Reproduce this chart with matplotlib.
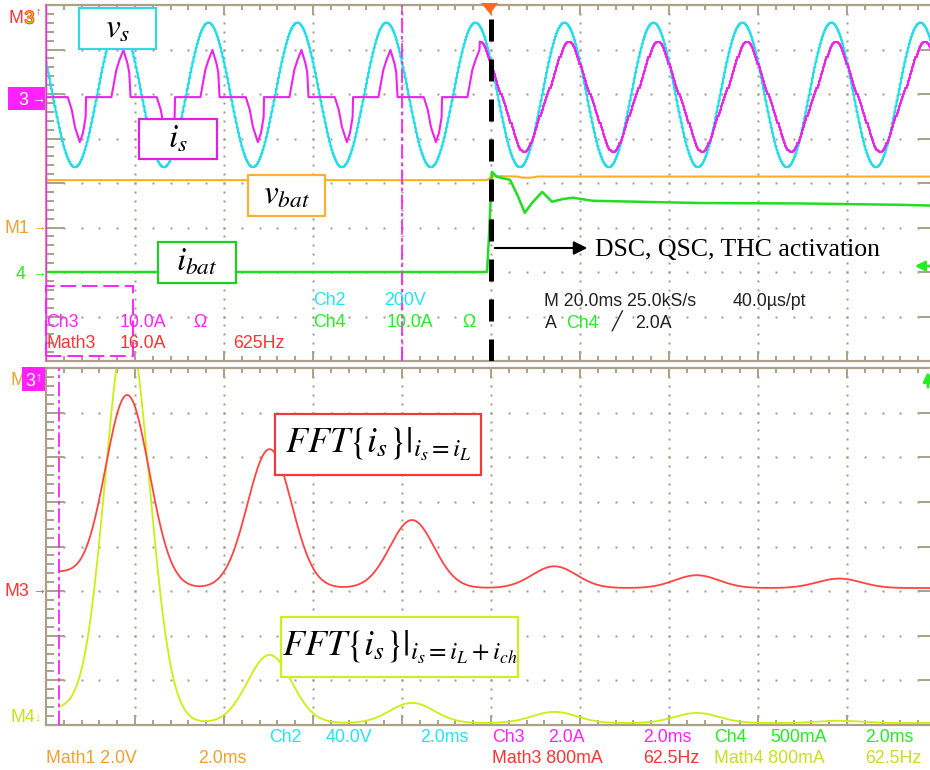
import numpy as np
import matplotlib
matplotlib.use("Agg")
import matplotlib.pyplot as plt
from matplotlib.patches import Rectangle, Polygon, FancyArrowPatch
import matplotlib.patheffects as pe

FIG_W, FIG_H = 930, 770
plt.rcParams['mathtext.fontset'] = 'stix'
plt.rcParams['font.family'] = ['Liberation Sans', 'DejaVu Sans']

# ---------------- upper screen: time domain, 20 ms/div, trigger at t = 0 ----------------
TIME_DIV = 20.0                      # ms per division
CH2_VDIV, CH2_POS = 200.0, 1.98      # source voltage v_s
CH3_ADIV, CH3_POS = 10.0, 1.93       # source current i_s
M1_VDIV, M1_POS = 2.0, -0.99         # battery voltage v_bat (Math1)
CH4_ADIV, CH4_POS = 10.0, -2.02      # battery current i_bat

vs_peak_v = 325.0
vs_freq_hz = 50.0
vs_first_crest_ms = -83.5

# rectifier-type current pulses around each voltage crest / trough (before activation)
is_pos_dt = [-1.8, -0.7, 0.0, 0.9, 1.8, 2.2, 2.5]
is_pos_a = [0.0, 6.1, 8.3, 10.6, 7.6, 5.6, 0.0]
is_neg_dt = [-1.6, -0.7, 0.0, 1.1, 1.8, 2.4, 2.5]
is_neg_a = [0.0, -2.9, -6.7, -10.1, -8.1, -4.5, 0.0]
# after activation: near-sinusoidal source current
is_on_peak_a = 11.5
is_on_lag_ms = 1.0
is_on_h3 = 0.08
t_switch_ms = -2.5

vbat_t = [-100, -1.0, 0.5, 6.0, 7.0, 9.0, 10.5, 100]
vbat_v = [2.11, 2.11, 2.29, 2.27, 2.22, 2.22, 2.27, 2.27]

ibat_t = [-100, -0.9, -0.5, 0.2, 1.35, 4.3, 6.1, 7.6, 9.2, 11.5, 13.7, 16.2,
          18.4, 22.9, 47.0, 69.4, 91.9, 100]
ibat_a = [0.2, 0.2, 7.2, 22.7, 21.6, 20.9, 17.1, 13.5, 15.7, 18.2, 16.0, 16.6,
          16.9, 16.2, 15.7, 15.6, 15.3, 15.1]

# ---------------- lower screen: spectra, 62.5 Hz/div ----------------
FREQ_DIV = 62.5
F_LEFT = -7.0
M3_ADIV, M3_POS = 0.8, -0.975
M4_ADIV, M4_POS = 0.8, -3.955
harm_hz = [0, 50, 150, 250, 350, 450, 550]
fft_load_a = [0.27, 3.46, 2.49, 1.22, 0.39, 0.23, 0.17]
fft_comp_a = [0.23, 7.17, 1.22, 0.36, 0.20, 0.18, 0.04]
fft_load_floor = 0.035
fft_comp_floor = 0.0
lobe_sigma_hz = 15.5
cursor_hz = 2.0

# colours
TAN = '#aaa188'
DOT = '#a39b84'
CYAN = '#22dde8'
MAG = '#ee22ee'
ORANGE = '#ffb020'
GREEN = '#22dd22'
RED = '#ff4444'
YEL = '#ccee11'
T_CYAN = '#22e4f4'
T_MAG = '#ff22ff'
T_GREEN = '#22ee22'
T_RED = '#ff3333'
T_ORANGE = '#f0a030'
T_YEL = '#c4e020'


def fx(x):
    return x / FIG_W


def fy(y):
    return 1 - y / FIG_H


fig = plt.figure(figsize=(FIG_W / 100, FIG_H / 100), dpi=100)
fig.patch.set_facecolor('white')
ax_t = fig.add_axes([fx(46), fy(361), fx(936) - fx(46), fy(5) - fy(361)])
ax_f = fig.add_axes([fx(46), fy(725), fx(936) - fx(46), fy(368) - fy(725)])


def graticule(ax, x0, xdiv):
    ax.set_xlim(x0, x0 + 10 * xdiv)
    ax.set_ylim(-4, 4)
    for s in ax.spines.values():
        s.set_color(TAN)
        s.set_linewidth(1.6)
    ax.set_xticks(x0 + xdiv * np.arange(11))
    ax.set_xticks(x0 + xdiv * np.arange(51) / 5, minor=True)
    ax.set_yticks(np.arange(-4, 5))
    ax.set_yticks(np.arange(-20, 21) / 5, minor=True)
    ax.tick_params(which='both', direction='in', top=True, bottom=True,
                   left=True, right=True, labelbottom=False, labelleft=False,
                   color=TAN, width=1.4)
    ax.tick_params(axis='x', which='major', length=7)
    ax.tick_params(axis='x', which='minor', length=3.5)
    ax.tick_params(axis='y', which='major', length=13)
    ax.tick_params(axis='y', which='minor', length=5.5, right=False)
    xs = x0 + xdiv * np.arange(1, 50) / 5
    for k in range(-3, 4):
        ax.plot(xs, np.full_like(xs, k), ls='none', marker='s', ms=1.5,
                mfc=DOT, mec='none', zorder=0.5)
    ys = np.arange(-19, 20) / 5
    for k in range(1, 10):
        ax.plot(np.full_like(ys, x0 + k * xdiv), ys, ls='none', marker='s',
                ms=1.5, mfc=DOT, mec='none', zorder=0.5)


graticule(ax_t, -100.0, TIME_DIV)
graticule(ax_f, F_LEFT, FREQ_DIV)

# ---------------- time-domain traces ----------------
period = 1000.0 / vs_freq_hz
t = np.arange(-100, 100.01, 0.25)
vs = vs_peak_v * np.cos(2 * np.pi * (t - vs_first_crest_ms) / period)
ax_t.plot(t, CH2_POS + vs / CH2_VDIV, color=CYAN, lw=1.5,
          drawstyle='steps-mid', zorder=2)

pts = [(-100.0, 0.0)]
for k in range(-1, 10):
    crest = vs_first_crest_ms + k * period
    for c, dts, amps in ((crest, is_pos_dt, is_pos_a),
                         (crest + period / 2, is_neg_dt, is_neg_a)):
        for dt, a in zip(dts, amps):
            if c + dt <= t_switch_ms:
                pts.append((c + dt, a))
pts.sort()
pre_t = np.array([p[0] for p in pts])
pre_a = np.array([p[1] for p in pts])
ton = np.arange(t_switch_ms, 100.01, 0.25)
ph = 2 * np.pi * (ton - vs_first_crest_ms - is_on_lag_ms) / period
ion = is_on_peak_a * (np.cos(ph) + is_on_h3 * np.cos(3 * ph))
ax_t.plot(np.append(pre_t, ton[0]), CH3_POS + np.append(pre_a, ion[0]) / CH3_ADIV,
          color=MAG, lw=1.5, zorder=3)
ax_t.plot(ton, CH3_POS + ion / CH3_ADIV, color=MAG, lw=1.5,
          drawstyle='steps-mid', zorder=3)

ax_t.plot(vbat_t, M1_POS + np.array(vbat_v) / M1_VDIV, color=ORANGE, lw=1.5, zorder=3)
ax_t.plot(ibat_t, CH4_POS + np.array(ibat_a) / CH4_ADIV, color=GREEN, lw=1.8, zorder=3)

# cursors and trigger line
ax_t.axvline(-100, color=T_MAG, lw=1.6, zorder=4)
ax_t.axvline(-20, color=T_MAG, lw=1.3, ls=(0, (8, 2, 2, 2)), zorder=4)
ax_t.axvline(0, color='black', lw=3.6, ls=(0, (4.4, 3.6)), zorder=6)

# ---------------- spectra ----------------
f = np.arange(cursor_hz, 625, 0.5)


def spectrum(amps, floor):
    s = np.full_like(f, floor)
    for h, a in zip(harm_hz, amps):
        s += a * np.exp(-(f - h) ** 2 / (2 * lobe_sigma_hz ** 2))
    return s


ax_f.plot(f, M4_POS + spectrum(fft_comp_a, fft_comp_floor) / M4_ADIV,
          color=YEL, lw=1.3, zorder=2)
ax_f.plot(f, M3_POS + spectrum(fft_load_a, fft_load_floor) / M3_ADIV,
          color=RED, lw=1.3, zorder=3)
ax_f.axvline(cursor_hz, color=T_MAG, lw=1.3, ls=(0, (8, 2, 2, 2)), zorder=4)

# ---------------- annotations ----------------
def box_label(x0, y0, x1, y1, color, tex, size):
    fig.add_artist(Rectangle((fx(x0), fy(y1)), fx(x1) - fx(x0), fy(y0) - fy(y1),
                             transform=fig.transFigure, facecolor='white',
                             edgecolor=color, lw=1.6, zorder=5))
    fig.text(fx((x0 + x1) / 2), fy((y0 + y1) / 2), tex, ha='center', va='center',
             fontsize=size, color='black', zorder=6)


box_label(79, 8, 156, 49, '#33d8e4', r'$v_s$', 24)
box_label(139, 119, 217, 159, '#e020e0', r'$i_s$', 24)
box_label(248, 175, 325, 216, '#ffb030', r'$v_{bat}$', 24)
box_label(158, 242, 236, 283, '#22cc22', r'$i_{bat}$', 24)
box_label(275, 414, 481, 475, '#ee3a3a', r'$FFT\{i_s\}|_{i_s=i_L}$', 26)
box_label(281, 617, 518, 677, '#ccee22', r'$FFT\{i_s\}|_{i_s=i_L+i_{ch}}$', 26)

# activation arrow
fig.add_artist(FancyArrowPatch(
    (fx(492), fy(248)), (fx(590), fy(248)), transform=fig.transFigure,
    arrowstyle='-|>', mutation_scale=20, color='black', lw=1.5, zorder=7))
fig.text(fx(595), fy(256), 'DSC, QSC, THC activation', family='Liberation Serif',
         fontsize=18.5, color='black', zorder=7)

# trigger position marker
fig.add_artist(Polygon([(fx(481), fy(3)), (fx(498), fy(3)), (fx(490), fy(14))],
                       closed=True, transform=fig.transFigure,
                       facecolor='#ff6a20', edgecolor='none', zorder=7))

# magenta dashed zoom box
fig.add_artist(Rectangle((fx(46), fy(356)), fx(133) - fx(46), fy(286) - fy(356),
                         transform=fig.transFigure, facecolor='none',
                         edgecolor=T_MAG, lw=1.4, ls=(0, (8, 3)), zorder=5))

# trigger level arrows (green)
fig.add_artist(FancyArrowPatch(
    (fx(936), fy(266)), (fx(912), fy(266)), transform=fig.transFigure,
    arrowstyle='-|>', mutation_scale=14, color=T_GREEN, lw=2, zorder=7))
fig.add_artist(FancyArrowPatch(
    (fx(928), fy(390)), (fx(928), fy(369)), transform=fig.transFigure,
    arrowstyle='-|>', mutation_scale=14, color=T_GREEN, lw=2, zorder=7))

# scope readouts
FS = 12.8


def readout(x, base, s, color):
    fig.text(fx(x), fy(base), s, fontsize=FS, color=color, ha='left',
             va='baseline', zorder=7)


readout(313, 305, 'Ch2', T_CYAN)
readout(384, 305, '200V', T_CYAN)
readout(46, 327, 'Ch3', T_MAG)
readout(120, 327, '10.0A', T_MAG)
readout(193, 327, 'Ω', T_MAG)
readout(313, 327, 'Ch4', T_GREEN)
readout(387, 327, '10.0A', T_GREEN)
readout(462, 327, 'Ω', T_GREEN)
readout(46, 348, 'Math3', T_RED)
readout(120, 348, '16.0A', T_RED)
readout(233, 348, '625Hz', T_RED)
readout(544, 306, 'M 20.0ms 25.0kS/s', '#222222')
readout(733, 306, '40.0µs/pt', '#222222')
readout(545, 328, 'A', '#222222')
readout(566, 328, 'Ch4', T_GREEN)
readout(612, 328, '╱', '#222222')
readout(635, 328, '2.0A', '#222222')

readout(269, 742, 'Ch2', T_CYAN)
readout(326, 742, '40.0V', T_CYAN)
readout(420, 742, '2.0ms', T_CYAN)
readout(492, 742, 'Ch3', T_MAG)
readout(548, 742, '2.0A', T_MAG)
readout(643, 742, '2.0ms', T_MAG)
readout(714, 742, 'Ch4', T_GREEN)
readout(770, 742, '500mA', T_GREEN)
readout(865, 742, '2.0ms', T_GREEN)
readout(46, 763, 'Math1 2.0V', T_ORANGE)
readout(198, 763, '2.0ms', T_ORANGE)
readout(492, 763, 'Math3 800mA', T_RED)
readout(643, 763, '62.5Hz', T_RED)
readout(714, 763, 'Math4 800mA', T_YEL)
readout(865, 763, '62.5Hz', T_YEL)

# channel reference markers on the left edge
def marker_text(x, yc, s, color, size=FS, ha='left'):
    fig.text(fx(x), fy(yc + 6.3 * size / FS), s, fontsize=size, color=color,
             ha=ha, va='baseline', zorder=8)


marker_text(8, 17, 'M', T_RED)
t3 = fig.text(fx(24.5), fy(23.3), '3', fontsize=FS, color='#c8d000', ha='left',
              va='baseline', zorder=8)
t3.set_path_effects([pe.withStroke(linewidth=1.2, foreground=T_RED)])
marker_text(36, 11, '↑', T_RED, size=8)

fig.add_artist(Rectangle((fx(8), fy(110)), fx(45) - fx(8), fy(87) - fy(110),
                         transform=fig.transFigure, facecolor=T_MAG,
                         edgecolor='none', zorder=7))
marker_text(18, 99, '3', 'white')
marker_text(31, 98, '→', 'white', size=10)

marker_text(4, 227, 'M1', T_ORANGE)
marker_text(32, 226, '→', T_ORANGE, size=10)
marker_text(16, 273, '4', T_GREEN)
marker_text(32, 272, '→', T_GREEN, size=10)

marker_text(10, 379, 'M', T_ORANGE)
fig.add_artist(Rectangle((fx(22), fy(391)), fx(45) - fx(22), fy(367) - fy(391),
                         transform=fig.transFigure, facecolor=T_MAG,
                         edgecolor='none', zorder=8.5))
fig.text(fx(25), fy(386), '3', fontsize=FS, color='white', ha='left',
         va='baseline', zorder=9)
fig.text(fx(35), fy(380), '↑', fontsize=9, color='white', ha='left',
         va='baseline', zorder=9)

marker_text(4, 590, 'M3', T_RED)
marker_text(32, 589, '→', T_RED, size=10)
marker_text(10, 716, 'M4', T_YEL)
marker_text(34, 716, '↓', T_YEL, size=9)

fig.savefig('out.png', dpi=100, facecolor='white')
